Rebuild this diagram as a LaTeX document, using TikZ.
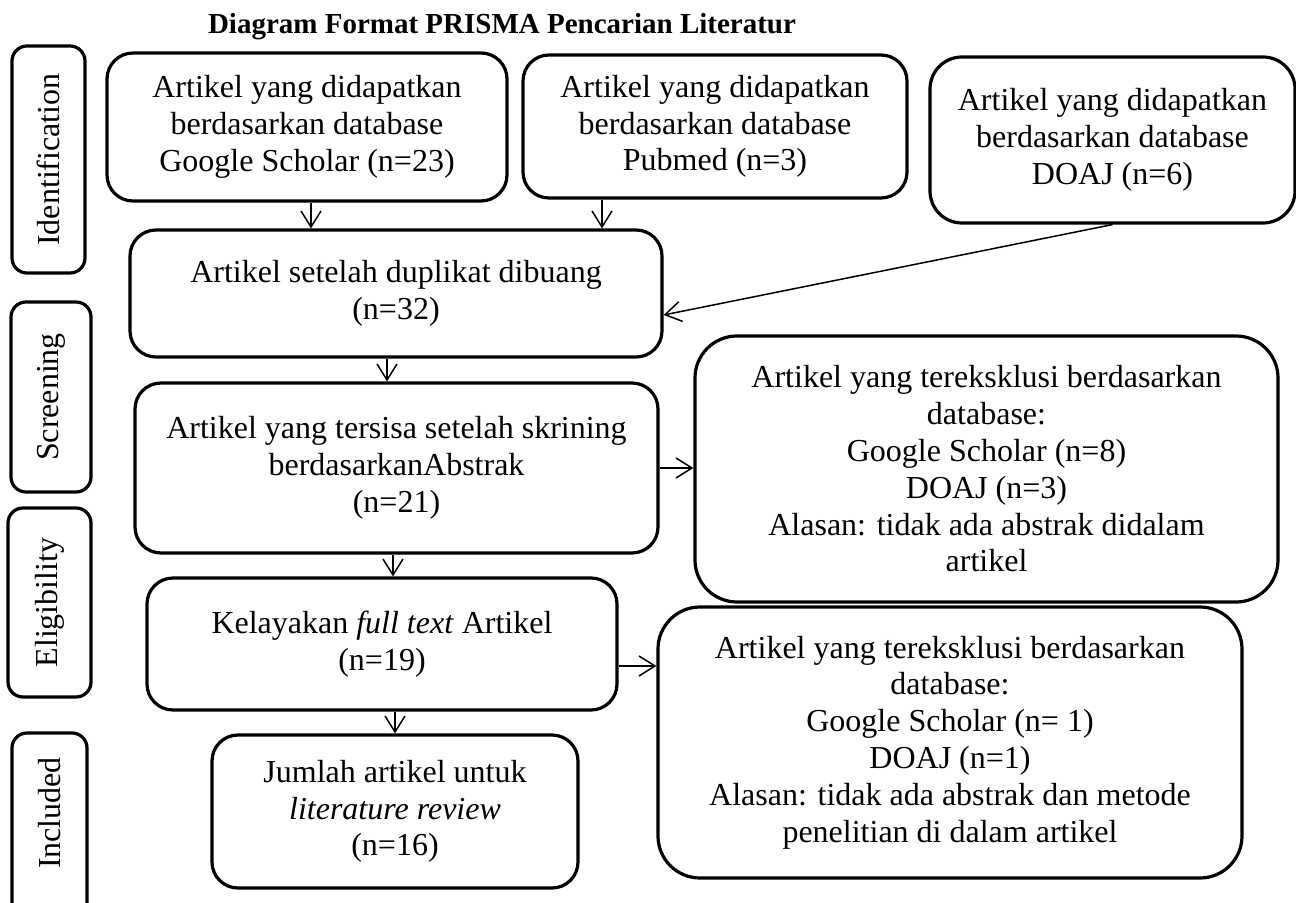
\documentclass[tikz,border=0pt]{standalone}
\usepackage{fontspec}
\setmainfont{Liberation Serif}
\usetikzlibrary{arrows.meta}
\tikzset{
  box/.style={draw, line width=1.6pt, rounded corners=13pt, align=center,
    inner sep=0pt, font=\fontsize{16}{18.4}\selectfont},
  bigbox/.style={box, rounded corners=21pt},
  phase/.style={box, rotate=90, rounded corners=7.5pt},
  flow/.style={line width=0.75pt, -{Straight Barb[length=8pt,width=10pt]}}
}
\begin{document}
\begin{tikzpicture}[x=0.5pt,y=-0.5pt]
  \useasboundingbox (0,0) rectangle (1296,903);
  % judul
  \node[font=\fontsize{14.5}{17}\selectfont\bfseries] (judul) at (502,27)
    {Diagram Format PRISMA Pencarian Literatur};
  % tahap
  \node[phase, minimum width=113.5pt, minimum height=36.5pt] (tIdent) at (48.5,159.5) {Identification};
  \node[phase, minimum width=95pt, minimum height=40pt] (tScreen) at (51,397) {Screening};
  \node[phase, minimum width=94.5pt, minimum height=41.5pt] (tElig) at (49.5,602.5) {Eligibility};
  \node[phase, minimum width=96pt, minimum height=37.5pt] (tIncl) at (49.5,829) {\hspace*{16pt}Included};
  % identifikasi
  \node[box, minimum width=200pt, minimum height=74pt] (gs) at (307,127)
    {Artikel yang didapatkan\\berdasarkan database\\Google Scholar (n=23)};
  \node[box, minimum width=192pt, minimum height=71.5pt] (pub) at (715,126.5)
    {Artikel yang didapatkan\\berdasarkan database\\Pubmed (n=3)};
  \node[box, rounded corners=16pt, minimum width=182.5pt, minimum height=83pt] (doaj) at (1112.5,140)
    {Artikel yang didapatkan\\berdasarkan database\\DOAJ (n=6)};
  \node[box, minimum width=266pt, minimum height=63.5pt] (dup) at (396,293.5)
    {Artikel setelah duplikat dibuang\\(n=32)};
  % skrining
  \node[box, minimum width=261.5pt, minimum height=85pt] (abs) at (396.5,468)
    {Artikel yang tersisa setelah skrining\\berdasarkanAbstrak\\(n=21)};
  \node[bigbox, minimum width=291.5pt, minimum height=133pt] (eks1) at (986.5,469)
    {Artikel yang tereksklusi berdasarkan\\database:\\Google Scholar (n=8)\\DOAJ (n=3)\\Alasan: tidak ada abstrak didalam\\artikel};
  % kelayakan
  \node[box, minimum width=235pt, minimum height=66pt] (full) at (382,644)
    {Kelayakan \textit{full text} Artikel\\(n=19)};
  \node[bigbox, minimum width=292pt, minimum height=135.5pt] (eks2) at (950,742.5)
    {Artikel yang tereksklusi berdasarkan\\database:\\Google Scholar (n= 1)\\DOAJ (n=1)\\Alasan: tidak ada abstrak dan metode\\penelitian di dalam artikel};
  % inklusi
  \node[box, minimum width=183pt, minimum height=76.5pt] (akhir) at (395,811.5)
    {Jumlah artikel untuk\\\textit{literature review}\\(n=16)};
  % panah
  \draw[flow] ([xshift=2pt]gs.south) -- ([xshift=2pt]gs.south |- dup.north);
  \draw[flow] ([xshift=-56.5pt]pub.south) -- ([xshift=-56.5pt]pub.south |- dup.north);
  \draw[flow] (doaj.south) -- ([yshift=-10.75pt]dup.east);
  \draw[flow] ([xshift=-4.5pt]dup.south) -- ([xshift=-4.5pt]dup.south |- abs.north);
  \draw[flow] (abs.east) -- (abs.east -| eks1.west);
  \draw[flow] ([xshift=-1.75pt]abs.south) -- ([xshift=-1.75pt]abs.south |- full.north);
  \draw[flow] ([yshift=-11pt]full.east) -- ([yshift=-11pt]full.east -| eks2.west);
  \draw[flow] (akhir.north |- full.south) -- (akhir.north);
\end{tikzpicture}
\end{document}
